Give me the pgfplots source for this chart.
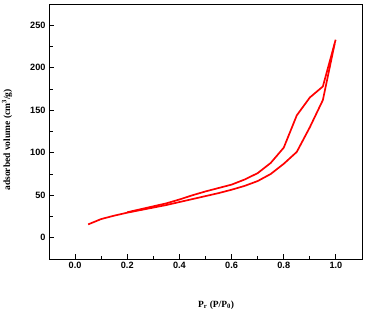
\documentclass[border=0pt]{standalone}
\usepackage{fontspec}
\setmainfont{Liberation Serif}
\setsansfont{Liberation Sans}
\usepackage{pgfplots}
\pgfplotsset{compat=1.18}
\begin{document}
\begin{tikzpicture}
\useasboundingbox (0,0) rectangle (371bp,314bp);
\begin{axis}[
  at={(49bp,55bp)}, anchor=south west,
  scale only axis, width=313bp, height=255bp,
  xmin=-0.1, xmax=1.1, ymin=-25, ymax=275,
  xtick={0,0.2,...,1.0}, ytick={0,50,...,250},
  minor x tick num=1, minor y tick num=1,
  tick align=inside, xtick pos=bottom, ytick pos=left,
  major tick length=5bp, minor tick length=3.5bp,
  axis line style={line width=0.9bp},
  every tick/.style={line width=0.9bp, black},
  /pgf/number format/assume math mode=true,
  ticklabel style={font=\sffamily\bfseries\fontsize{9.2}{10}\selectfont},
  xticklabel style={/pgf/number format/.cd, fixed, fixed zerofill, precision=1},
  yticklabel style={/pgf/number format/.cd, fixed, precision=0},
  xlabel={\textbf{P\textsubscript{r} (P/P\textsubscript{0})}},
  ylabel={\textbf{adsorbed volume (cm\textsuperscript{3}/g)}},
  label style={font=\fontsize{9.5}{10}\selectfont},
  xlabel style={at={(axis description cs:0.534,-0.18)}, anchor=center},
  ylabel style={at={(axis description cs:-0.134,0.467)}, anchor=center},
]
\addplot[red, line width=1.7bp, no marks] coordinates {
(0.05,15.7) (0.1,22) (0.15,26) (0.2,29.5) (0.25,32.5) (0.3,35.5) (0.35,38.5)
(0.4,42) (0.45,45.5) (0.5,49) (0.55,52.5) (0.6,56.5) (0.65,61) (0.7,66.7)
(0.75,75) (0.8,87) (0.85,101) (0.9,130) (0.95,162) (0.995,228)
};
\addplot[red, line width=1.7bp, no marks] coordinates {
(0.999,233) (0.95,178) (0.9,165) (0.85,144) (0.8,106) (0.75,88) (0.7,76)
(0.65,68.5) (0.6,62.5) (0.55,58.5) (0.5,54.5) (0.45,50) (0.4,45) (0.35,40.5)
(0.3,37) (0.25,33.5) (0.2,30)
};
\end{axis}
\end{tikzpicture}
\end{document}
